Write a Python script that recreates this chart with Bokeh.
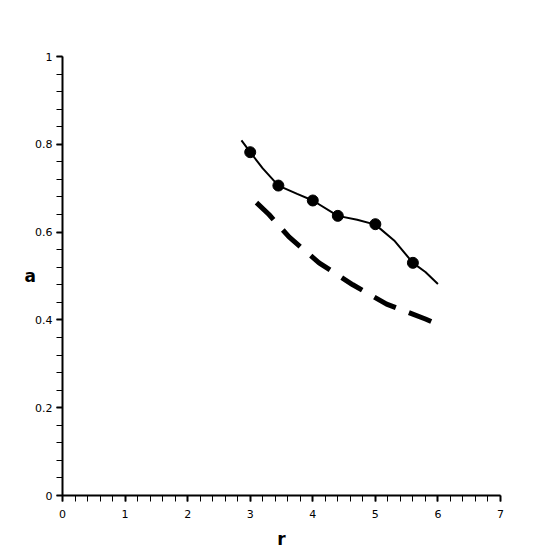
from bokeh.plotting import figure
from bokeh.models import Range1d, FixedTicker
from bokeh.embed import file_html
from bokeh.resources import INLINE

# measured points (circles)
pts_r = [3.0, 3.45, 4.0, 4.4, 5.0, 5.6]
pts_a = [0.782, 0.706, 0.672, 0.637, 0.618, 0.530]

# solid fitted curve
fit_r = [2.86, 3.0, 3.2, 3.45, 3.75, 4.0, 4.4, 4.71, 5.0, 5.3, 5.6, 5.8, 6.0]
fit_a = [0.809, 0.782, 0.745, 0.706, 0.687, 0.672, 0.637, 0.628, 0.617, 0.581, 0.530, 0.509, 0.482]

# dashed curve
dash_r = [3.1, 3.3, 3.62, 4.1, 4.64, 5.18, 5.8, 6.0]
dash_a = [0.667, 0.640, 0.589, 0.530, 0.480, 0.436, 0.402, 0.390]

x_ticks = [0, 1, 2, 3, 4, 5, 6, 7]
y_ticks = [0, 0.2, 0.4, 0.6, 0.8, 1]
y_labels = {0: "0", 0.2: "0.2", 0.4: "0.4", 0.6: "0.6", 0.8: "0.8", 1: "1"}

p = figure(width=548, height=556, output_backend="svg", toolbar_location=None,
           x_range=Range1d(0, 7), y_range=Range1d(0, 1),
           min_border_left=62, min_border_right=48, min_border_top=56, min_border_bottom=61)
p.outline_line_color = None
p.xgrid.visible = False
p.ygrid.visible = False

p.line(fit_r, fit_a, line_color="black", line_width=2)
p.scatter(pts_r, pts_a, size=11, color="black")
p.line(dash_r, dash_a, line_color="black", line_width=5, line_dash="24 14")

xminor = [i * 0.2 for i in range(36)]
yminor = [i * 0.04 for i in range(26)]
p.xaxis.ticker = FixedTicker(ticks=x_ticks, minor_ticks=xminor)
p.yaxis.ticker = FixedTicker(ticks=y_ticks, minor_ticks=yminor)
p.yaxis.major_label_overrides = y_labels

for ax in (p.xaxis[0], p.yaxis[0]):
    ax.axis_line_width = 2
    ax.major_tick_line_width = 2
    ax.minor_tick_line_width = 1
    ax.major_tick_out = 6
    ax.major_tick_in = 0
    ax.minor_tick_out = 6
    ax.minor_tick_in = 0
    ax.major_label_text_font = "DejaVu Sans"
    ax.major_label_text_font_size = "11px"
    ax.major_label_text_color = "black"
    ax.axis_label_text_font = "DejaVu Sans"
    ax.axis_label_text_font_size = "17px"
    ax.axis_label_text_font_style = "bold"
    ax.axis_label_text_color = "black"

p.xaxis.axis_label = "r"
p.yaxis.axis_label = "a"
p.yaxis.axis_label_orientation = "horizontal"
p.xaxis.major_label_standoff = 8
p.yaxis.major_label_standoff = 4
p.xaxis.axis_label_standoff = 8
p.yaxis.axis_label_standoff = -4

open("out.html", "w").write(file_html(p, INLINE))
